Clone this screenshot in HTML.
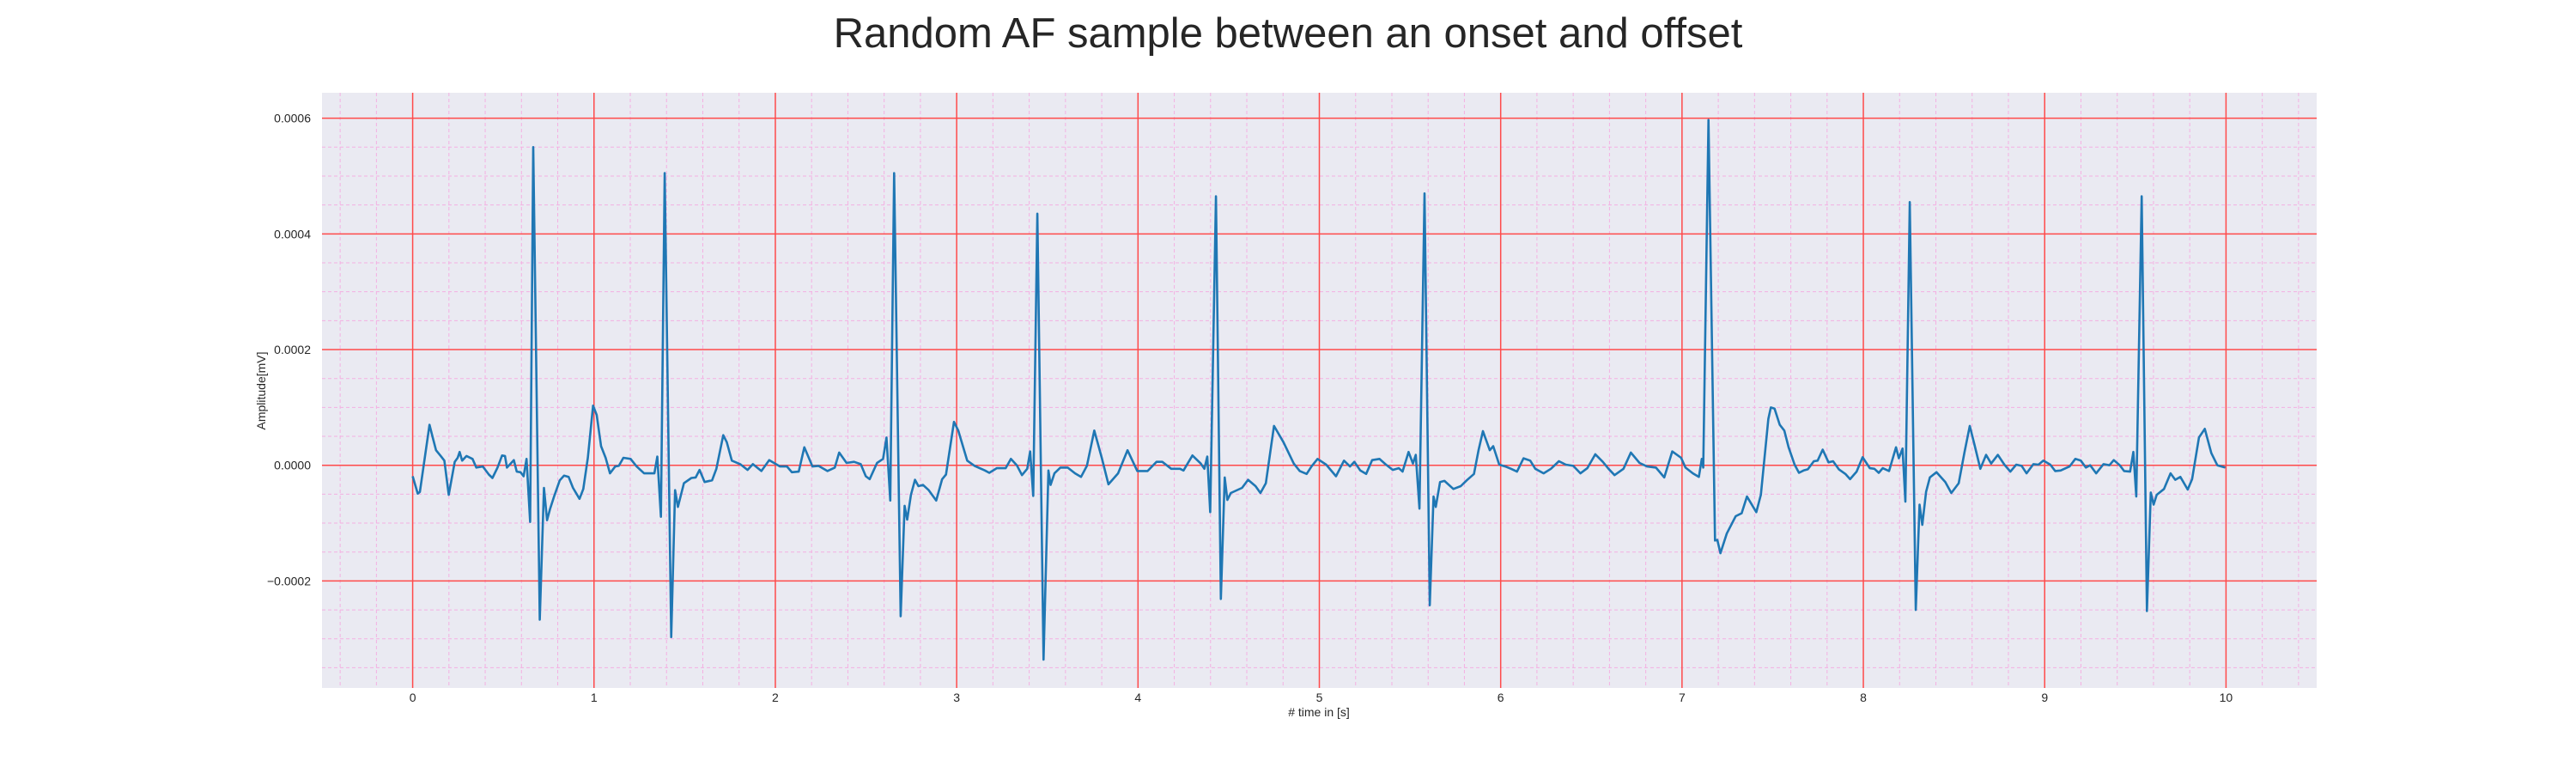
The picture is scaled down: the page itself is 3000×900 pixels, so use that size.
<!DOCTYPE html>
<html><head><meta charset="utf-8">
<style>
html,body{margin:0;padding:0;background:#fff;}
svg{display:block;font-family:"Liberation Sans",sans-serif;}
</style></head>
<body>
<svg id="chart" width="3000" height="900" viewBox="0 0 3000 900" xmlns="http://www.w3.org/2000/svg">
<rect width="3000" height="900" fill="#ffffff"/>
<text x="1500" y="55" font-size="49" text-anchor="middle" fill="#262626">Random AF sample between an onset and offset</text>
<rect x="375" y="108" width="2323" height="693" fill="#eaeaf2"/>
<g id="grid-minor"></g>
<g id="grid-major"></g>
<g id="ticks"></g>
<g id="series"></g>
<text x="1536" y="834" font-size="14" text-anchor="middle" fill="#262626"># time in [s]</text>
<text transform="translate(309,455) rotate(-90)" font-size="14" text-anchor="middle" fill="#262626">Amplitude[mV]</text>
</svg>
<script>
const xTicks = [0,1,2,3,4,5,6,7,8,9,10];
const yTicks = [-0.0002,0,0.0002,0.0004,0.0006];
const yTickLabels = ["\u22120.0002","0.0000","0.0002","0.0004","0.0006"];
const times = [0,0.028,0.04,0.093,0.109,0.129,0.155,0.175,0.199,0.232,0.248,0.259,0.273,0.297,0.33,0.351,0.387,0.42,0.44,0.468,0.493,0.509,0.52,0.558,0.574,0.595,0.612,0.628,0.648,0.665,0.701,0.724,0.741,0.757,0.781,0.811,0.835,0.86,0.884,0.92,0.941,0.966,0.995,1.015,1.039,1.064,1.088,1.117,1.137,1.162,1.202,1.235,1.276,1.333,1.349,1.369,1.39,1.426,1.447,1.463,1.496,1.537,1.561,1.582,1.61,1.651,1.675,1.713,1.732,1.76,1.806,1.847,1.876,1.923,1.966,2.026,2.064,2.091,2.129,2.16,2.205,2.238,2.287,2.328,2.352,2.393,2.434,2.471,2.499,2.52,2.561,2.594,2.613,2.634,2.655,2.691,2.713,2.727,2.748,2.77,2.789,2.814,2.846,2.887,2.92,2.941,2.985,3.009,3.058,3.099,3.156,3.18,3.221,3.27,3.299,3.332,3.36,3.389,3.405,3.422,3.445,3.479,3.506,3.518,3.539,3.572,3.612,3.653,3.686,3.718,3.759,3.8,3.837,3.89,3.942,3.996,4.053,4.102,4.134,4.183,4.232,4.251,4.3,4.346,4.366,4.382,4.398,4.43,4.457,4.478,4.493,4.512,4.574,4.607,4.648,4.675,4.705,4.75,4.802,4.859,4.892,4.93,4.957,4.99,5.038,5.092,5.136,5.169,5.193,5.226,5.258,5.291,5.332,5.364,5.405,5.438,5.459,5.492,5.516,5.532,5.552,5.58,5.609,5.63,5.642,5.666,5.69,5.739,5.78,5.813,5.853,5.878,5.902,5.94,5.959,5.992,6.025,6.057,6.09,6.126,6.163,6.191,6.237,6.277,6.321,6.359,6.4,6.44,6.478,6.522,6.563,6.595,6.628,6.677,6.718,6.766,6.807,6.856,6.902,6.946,6.995,7.019,7.06,7.093,7.109,7.117,7.146,7.182,7.195,7.212,7.247,7.296,7.329,7.358,7.41,7.435,7.476,7.49,7.51,7.539,7.564,7.588,7.621,7.645,7.67,7.694,7.727,7.748,7.776,7.808,7.833,7.865,7.901,7.927,7.963,7.996,8.036,8.061,8.085,8.107,8.142,8.18,8.196,8.216,8.232,8.256,8.289,8.31,8.325,8.346,8.367,8.403,8.452,8.485,8.526,8.558,8.587,8.615,8.645,8.677,8.705,8.742,8.778,8.811,8.843,8.873,8.9,8.938,8.966,8.993,9.031,9.058,9.088,9.137,9.169,9.199,9.227,9.251,9.284,9.324,9.357,9.381,9.414,9.438,9.471,9.489,9.505,9.535,9.564,9.585,9.601,9.618,9.658,9.694,9.72,9.748,9.789,9.813,9.851,9.883,9.919,9.952,9.996];
const amps = [-0.19,-0.49,-0.46,0.70,0.50,0.26,0.16,0.08,-0.51,0.06,0.13,0.23,0.08,0.16,0.11,-0.04,-0.02,-0.16,-0.22,-0.04,0.17,0.16,-0.04,0.09,-0.11,-0.12,-0.19,0.11,-0.98,5.5,-2.67,-0.39,-0.95,-0.76,-0.53,-0.26,-0.18,-0.20,-0.39,-0.58,-0.41,0.13,1.03,0.87,0.33,0.13,-0.14,-0.02,-0.01,0.13,0.11,-0.02,-0.14,-0.14,0.15,-0.89,5.05,-2.97,-0.43,-0.72,-0.31,-0.22,-0.21,-0.08,-0.29,-0.26,-0.06,0.52,0.40,0.08,0.02,-0.08,0.02,-0.10,0.09,-0.02,-0.02,-0.12,-0.11,0.31,-0.02,-0.01,-0.10,-0.04,0.22,0.04,0.06,0.02,-0.19,-0.24,0.04,0.11,0.48,-0.61,5.05,-2.61,-0.70,-0.94,-0.51,-0.25,-0.36,-0.34,-0.43,-0.61,-0.24,-0.16,0.75,0.60,0.08,-0.01,-0.09,-0.13,-0.05,-0.05,0.11,0,-0.17,-0.06,0.24,-0.53,4.35,-3.36,-0.09,-0.34,-0.14,-0.04,-0.04,-0.14,-0.20,-0.01,0.60,0.13,-0.33,-0.14,0.26,-0.10,-0.10,0.06,0.06,-0.06,-0.06,-0.09,0.17,0.03,-0.06,0.15,-0.81,4.65,-2.31,-0.21,-0.60,-0.48,-0.39,-0.25,-0.36,-0.48,-0.31,0.68,0.40,0.03,-0.10,-0.15,-0.02,0.11,0.01,-0.19,0.08,-0.02,0.06,-0.09,-0.15,0.09,0.11,0.02,-0.08,-0.05,-0.11,0.23,0.03,0.18,-0.75,4.7,-2.42,-0.54,-0.72,-0.29,-0.27,-0.41,-0.36,-0.26,-0.15,0.26,0.59,0.26,0.33,0.01,-0.02,-0.06,-0.11,0.12,0.08,-0.06,-0.14,-0.06,0.07,0.01,-0.01,-0.14,-0.05,0.19,0.06,-0.06,-0.17,-0.06,0.22,0.04,-0.02,-0.04,-0.21,0.24,0.13,-0.04,-0.14,-0.20,0.11,-0.04,5.97,-1.30,-1.29,-1.52,-1.18,-0.88,-0.83,-0.54,-0.81,-0.51,0.80,1.00,0.98,0.70,0.60,0.31,0.01,-0.13,-0.09,-0.07,0.07,0.08,0.27,0.05,0.07,-0.07,-0.15,-0.24,-0.11,0.14,-0.05,-0.06,-0.13,-0.05,-0.10,0.31,0.12,0.29,-0.63,4.55,-2.50,-0.68,-1.03,-0.46,-0.21,-0.12,-0.29,-0.48,-0.31,0.23,0.68,0.33,-0.06,0.18,0.03,0.18,0.01,-0.11,0.01,-0.01,-0.14,0.02,0.01,0.08,0.01,-0.10,-0.09,-0.02,0.11,0.08,-0.04,0,-0.14,0.02,0,0.09,0,-0.10,-0.11,0.23,-0.54,4.65,-2.52,-0.47,-0.68,-0.51,-0.41,-0.14,-0.25,-0.20,-0.42,-0.24,0.48,0.63,0.21,0,-0.04];
const ampScale = 1e-4;

const L=375,R=2698,T=108,B=801;
const xMin=-0.5,xMax=10.5,yMin=-0.000385,yMax=0.000644;
function sx(v){return L+(v-xMin)/(xMax-xMin)*(R-L);}
function sy(v){return B-(v-yMin)/(yMax-yMin)*(B-T);}
const NS="http://www.w3.org/2000/svg";
function mk(tag,attrs,parent){const e=document.createElementNS(NS,tag);for(const k in attrs)e.setAttribute(k,attrs[k]);parent.appendChild(e);return e;}
const gMin=document.getElementById('grid-minor'),gMaj=document.getElementById('grid-major'),gT=document.getElementById('ticks'),gS=document.getElementById('series');
for(let i=-2;i<=52;i++){const v=i*0.2;if(v<xMin||v>xMax)continue;if(i%5===0)continue;
 const ln=mk('line',{x1:sx(v),x2:sx(v),y1:T,y2:B,stroke:'#f4b0e2','stroke-width':1,'stroke-dasharray':'4,3'},gMin);
 
 }
for(let i=-7;i<=12;i++){const v=i*0.00005;if(v<yMin||v>yMax)continue;if(i%4===0)continue;
 const ln=mk('line',{x1:L,x2:R,y1:sy(v),y2:sy(v),stroke:'#f4b0e2','stroke-width':1,'stroke-dasharray':'4,3'},gMin);
 
 }
xTicks.forEach(v=>{
 const ln=mk('line',{x1:sx(v),x2:sx(v),y1:T,y2:B,stroke:'#ff4a4a','stroke-width':1.5},gMaj);
 
 
 const t=mk('text',{x:sx(v),y:817,'font-size':14,'text-anchor':'middle',fill:'#262626'},gT);t.textContent=String(v);
 
 });
yTicks.forEach((v,i)=>{
 const ln=mk('line',{x1:L,x2:R,y1:sy(v),y2:sy(v),stroke:'#ff4a4a','stroke-width':1.5},gMaj);
 
 
 const t=mk('text',{x:362,y:sy(v)+5,'font-size':14,'text-anchor':'end',fill:'#262626'},gT);t.textContent=yTickLabels[i];
 
 });
let d='';times.forEach((t,i)=>{d+=(i?'L':'M')+sx(t).toFixed(1)+','+sy(amps[i]*ampScale).toFixed(1);});
const p=mk('path',{d:d,fill:'none',stroke:'#1f77b4','stroke-width':2.6,'stroke-linejoin':'round'},gS);


</script>
</body></html>
